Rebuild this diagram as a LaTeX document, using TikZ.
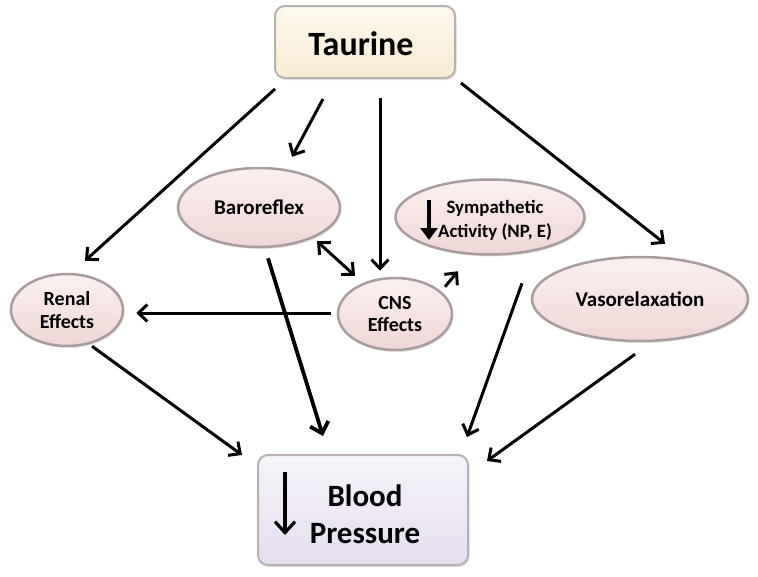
\documentclass[tikz,border=0pt]{standalone}
\usepackage{fontspec}
\setmainfont{Carlito}
\usetikzlibrary{arrows.meta,shapes.geometric,shadows}
\definecolor{ellfillA}{HTML}{FBF0F0}
\definecolor{ellfillB}{HTML}{F0D6D6}
\definecolor{ellborder}{HTML}{A89C9C}
\definecolor{taurA}{HTML}{FEF9EE}
\definecolor{taurB}{HTML}{F7EBD2}
\definecolor{bpA}{HTML}{F6F3FA}
\definecolor{bpB}{HTML}{E6DEF0}
\tikzset{
  ell/.style={ellipse, draw=ellborder, line width=2.5pt, top color=ellfillA, bottom color=ellfillB,
    inner sep=0pt, align=center, font=\bfseries,
    drop shadow={opacity=0.2, shadow xshift=1.5pt, shadow yshift=-2pt}},
  boxnode/.style={rounded corners=10pt, draw=ellborder!80, line width=2pt, inner sep=0pt, align=center,
    font=\bfseries, drop shadow={opacity=0.2, shadow xshift=1.5pt, shadow yshift=-2pt}},
  conn/.style={line width=3pt, -{Straight Barb[length=9pt,width=17pt,line width=3pt]}},
  conntwo/.style={line width=3pt, {Straight Barb[length=9pt,width=17pt,line width=3pt]}-{Straight Barb[length=9pt,width=17pt,line width=3pt]}},
  connthick/.style={line width=3.8pt, -{Straight Barb[length=10pt,width=19pt,line width=3.8pt]}},
}
\begin{document}
\begin{tikzpicture}[x=1pt,y=-1pt]
\useasboundingbox (0,0) rectangle (758,576);
\fill[white] (0,0) rectangle (758,576);

\node[boxnode, top color=taurA, bottom color=taurB, minimum width=180pt, minimum height=72pt] (taurine) at (365,42) {};
\node[font=\bfseries\fontsize{34}{36}\selectfont] (taurtext) at (361,44) {Taurine};

\node[boxnode, top color=bpA, bottom color=bpB, minimum width=210pt, minimum height=110pt] (bp) at (363,510) {};
\node[font=\bfseries\fontsize{31}{37}\selectfont, align=center] (bptext) at (365,514) {Blood\\Pressure};
\draw[line width=3.2pt, -{Straight Barb[length=11pt,width=20pt,line width=3.2pt]}] ([shift={(-78,-38)}]bp.center) -- ([shift={(-78,25)}]bp.center);

\node[ell, minimum width=162pt, minimum height=79pt, font=\bfseries\fontsize{21}{22}\selectfont] (baro) at (259,207.5) {Baroreflex};
\node[ell, minimum width=189pt, minimum height=75pt] (symp) at (490,217) {};
\node[font=\bfseries\fontsize{18.8}{24}\selectfont, align=center] (symptext) at (495,220) {Sympathetic\\Activity (NP, E)};
\draw[line width=3.4pt, -{Triangle[length=12pt,width=17pt]}] ([shift={(-61,-17)}]symp.center) -- ([shift={(-61,23)}]symp.center);
\node[ell, minimum width=114pt, minimum height=72pt, font=\bfseries\fontsize{20}{22}\selectfont] (cns) at (395,314) {CNS\\Effects};
\node[ell, minimum width=112pt, minimum height=72pt, font=\bfseries\fontsize{20}{23}\selectfont] (renal) at (67,310) {Renal\\Effects};
\node[ell, minimum width=216pt, minimum height=84pt, font=\bfseries\fontsize{21}{22}\selectfont] (vaso) at (640,299) {Vasorelaxation};

% connectors
\draw[conn] ([shift={(1,10)}]taurine.south west) -- ([shift={(18,-12)}]renal.north);
\draw[conn] ([shift={(-42,20)}]taurine.south) -- ([shift={(33,-10)}]baro.north);
\draw[conn] ([shift={(15,19)}]taurine.south) -- ([shift={(-15,-6)}]cns.north);
\draw[conn] ([shift={(5,4)}]taurine.south east) -- ([shift={(25,-12)}]vaso.north);
\draw[conntwo] ([shift={(58,-7)}]baro.south) -- ([shift={(-40,-1)}]cns.north);
\draw[conn] ([shift={(-6,-1)}]cns.west) -- ([shift={(12,3)}]renal.east);
\draw[conn] ([shift={(50,10)}]cns.north) -- ([shift={(-32,15.5)}]symp.south);
\draw[connthick] ([shift={(9,10)}]baro.south) -- ([shift={(-40,-18)}]bp.north);
\draw[conn] ([shift={(25,-1)}]renal.south) -- ([shift={(-15,-55)}]bp.west);
\draw[conn] ([shift={(32,27.5)}]symp.south) -- ([shift={(104,-17)}]bp.north);
\draw[conn] ([shift={(-5,12)}]vaso.south) -- ([shift={(124,7)}]bp.north);
\end{tikzpicture}
\end{document}
